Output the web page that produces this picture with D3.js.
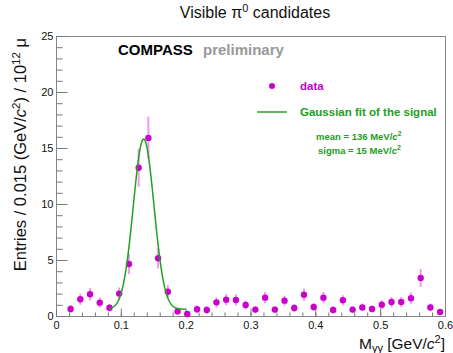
<!DOCTYPE html>
<html>
<head>
<meta charset="utf-8">
<script src="https://cdn.jsdelivr.net/npm/d3@7"></script>
<style>
  body { margin: 0; background: #fff; }
  svg { font-family: "Liberation Sans", Arial, Helvetica, sans-serif; }
</style>
</head>
<body>
<svg id="chart" width="453" height="353"></svg>
<script>
// bin centres (GeV/c^2), bin width 0.015, first bin empty
var binCenters = [0.0225, 0.0375, 0.0525, 0.0675, 0.0825, 0.0975, 0.1125, 0.1275, 0.1425, 0.1575,
  0.1725, 0.1875, 0.2025, 0.2175, 0.2325, 0.2475, 0.2625, 0.2775, 0.2925, 0.3075,
  0.3225, 0.3375, 0.3525, 0.3675, 0.3825, 0.3975, 0.4125, 0.4275, 0.4425, 0.4575,
  0.4725, 0.4875, 0.5025, 0.5175, 0.5325, 0.5475, 0.5625, 0.5775, 0.5925];
var entries = [0.63, 1.5, 1.94, 1.19, 0.74, 2.0, 4.64, 13.24, 15.9, 5.15,
  2.17, 0.41, 0.18, 0.6, 0.54, 1.22, 1.46, 1.43, 0.98, 0.57,
  1.64, 0.57, 1.37, 0.71, 1.9, 0.8, 1.64, 0.54, 1.4, 0.57,
  0.77, 0.63, 1.01, 1.25, 1.25, 1.58, 3.39, 0.77, 0.36];
var errors = [0.35, 0.5, 0.55, 0.45, 0.35, 0.55, 0.9, 1.7, 1.9, 0.9,
  0.6, 0.25, 0.15, 0.35, 0.35, 0.45, 0.5, 0.5, 0.4, 0.3,
  0.5, 0.3, 0.45, 0.35, 0.55, 0.35, 0.5, 0.3, 0.45, 0.3,
  0.35, 0.3, 0.4, 0.45, 0.45, 0.5, 0.8, 0.35, 0.25];

// gaussian fit + flat background, as drawn
var fitRange = [0.0825, 0.2];
var fitAmp = 15.2, fitMean = 0.1352, fitSigma = 0.016, fitBase = 0.6;

var xTicks = [0, 0.1, 0.2, 0.3, 0.4, 0.5, 0.6];
var yTicks = [0, 5, 10, 15, 20, 25];

var magenta = "#cc00cc", errColor = "#ee99ee", green = "#22a022";

var svg = d3.select("#chart");
var x = d3.scaleLinear().domain([0, 0.6]).range([56, 445]);
var y = d3.scaleLinear().domain([0, 25]).range([316, 36]);

// frame
svg.append("rect")
   .attr("x", 56.5).attr("y", 36.5)
   .attr("width", 389).attr("height", 280)
   .attr("fill", "none").attr("stroke", "#888").attr("stroke-width", 1);

// axes: ticks inside the frame
function styleAxis(g) {
  g.select(".domain").remove();
  g.selectAll(".tick line").attr("stroke", "#777");
  g.selectAll(".tick text").attr("fill", "#111").attr("font-size", "11px")
   .attr("font-family", "'Liberation Sans', Arial, sans-serif");
}
var xMinor = d3.range(0, 31).map(function(i) { return i * 0.02; });
var yMinor = d3.range(0, 26);

svg.append("g").attr("transform", "translate(0,316.5)")
   .call(d3.axisBottom(x).tickValues(xMinor).tickSize(-4).tickFormat(""))
   .call(styleAxis);
svg.append("g").attr("transform", "translate(0,316.5)")
   .call(d3.axisBottom(x).tickValues(xTicks).tickSize(-8).tickPadding(5).tickFormat(d3.format("")))
   .call(styleAxis);
svg.append("g").attr("transform", "translate(56.5,0)")
   .call(d3.axisLeft(y).tickValues(yMinor).tickSize(-6).tickFormat(""))
   .call(styleAxis);
svg.append("g").attr("transform", "translate(56.5,0)")
   .call(d3.axisLeft(y).tickValues(yTicks).tickSize(-11).tickPadding(3).tickFormat(d3.format("d")))
   .call(styleAxis);

// data points
var pts = binCenters.map(function(c, i) { return {x: c, y: entries[i], e: errors[i]}; });
svg.append("g").selectAll("line").data(pts).enter().append("line")
   .attr("x1", function(d) { return x(d.x); }).attr("x2", function(d) { return x(d.x); })
   .attr("y1", function(d) { return y(d.y - d.e); }).attr("y2", function(d) { return y(d.y + d.e); })
   .attr("stroke", errColor).attr("stroke-width", 2);
svg.append("g").selectAll("circle").data(pts).enter().append("circle")
   .attr("cx", function(d) { return x(d.x); }).attr("cy", function(d) { return y(d.y); })
   .attr("r", 3.2).attr("fill", magenta);

// fit curve
var fitPts = d3.range(0, 201).map(function(i) {
  var m = fitRange[0] + (fitRange[1] - fitRange[0]) * i / 200;
  return [m, fitBase + fitAmp * Math.exp(-0.5 * Math.pow((m - fitMean) / fitSigma, 2))];
});
svg.append("path").datum(fitPts)
   .attr("d", d3.line().x(function(d) { return x(d[0]); }).y(function(d) { return y(d[1]); }))
   .attr("fill", "none").attr("stroke", green).attr("stroke-width", 1.5);

// title
var title = svg.append("text").attr("x", 255).attr("y", 18).attr("text-anchor", "middle")
   .attr("font-size", "16px").attr("fill", "#111");
title.append("tspan").text("Visible \u03c0");
title.append("tspan").attr("dy", -6).attr("font-size", "11px").text("0");
title.append("tspan").attr("dy", 6).text(" candidates");

// axis titles
var xt = svg.append("text").attr("x", 445).attr("y", 349).attr("text-anchor", "end")
   .attr("font-size", "15.5px").attr("fill", "#111");
xt.append("tspan").text("M");
xt.append("tspan").attr("dy", 3).attr("font-size", "11px").text("\u03b3\u03b3");
xt.append("tspan").attr("dy", -3).text(" [GeV/");
xt.append("tspan").attr("font-style", "italic").text("c");
xt.append("tspan").attr("dy", -6).attr("font-size", "11px").text("2");
xt.append("tspan").attr("dy", 6).text("]");

var yt = svg.append("text").attr("transform", "translate(26,38) rotate(-90)")
   .attr("text-anchor", "end").attr("font-size", "16.5px").attr("fill", "#111");
yt.append("tspan").text("Entries / 0.015 (GeV/");
yt.append("tspan").attr("font-style", "italic").text("c");
yt.append("tspan").attr("dy", -6).attr("font-size", "11.5px").text("2");
yt.append("tspan").attr("dy", 6).text(") / 10");
yt.append("tspan").attr("dy", -6).attr("font-size", "11.5px").text("12");
yt.append("tspan").attr("dy", 6).text(" \u03bc");

// experiment label
svg.append("text").attr("x", 118).attr("y", 55).attr("font-size", "15px").attr("font-weight", "bold")
   .attr("fill", "#000").text("COMPASS");
svg.append("text").attr("x", 203).attr("y", 55).attr("font-size", "15px").attr("font-weight", "bold")
   .attr("fill", "#999").text("preliminary");

// legend
svg.append("circle").attr("cx", 272).attr("cy", 86).attr("r", 3).attr("fill", magenta);
svg.append("text").attr("x", 300).attr("y", 90).attr("font-size", "11.5px").attr("font-weight", "bold")
   .attr("fill", magenta).text("data");
svg.append("line").attr("x1", 257).attr("x2", 287).attr("y1", 112).attr("y2", 112)
   .attr("stroke", green).attr("stroke-width", 1.5);
svg.append("text").attr("x", 300).attr("y", 116).attr("font-size", "11.5px").attr("font-weight", "bold")
   .attr("fill", green).text("Gaussian fit of the signal");

var m1 = svg.append("text").attr("x", 316).attr("y", 140).attr("font-size", "9.5px").attr("font-weight", "bold").attr("fill", green);
m1.append("tspan").text("mean = 136 MeV/");
m1.append("tspan").attr("font-style", "italic").text("c");
m1.append("tspan").attr("dy", -4).attr("font-size", "7px").text("2");
var m2 = svg.append("text").attr("x", 318).attr("y", 154).attr("font-size", "9.5px").attr("font-weight", "bold").attr("fill", green);
m2.append("tspan").text("sigma = 15 MeV/");
m2.append("tspan").attr("font-style", "italic").text("c");
m2.append("tspan").attr("dy", -4).attr("font-size", "7px").text("2");
</script>
</body>
</html>
